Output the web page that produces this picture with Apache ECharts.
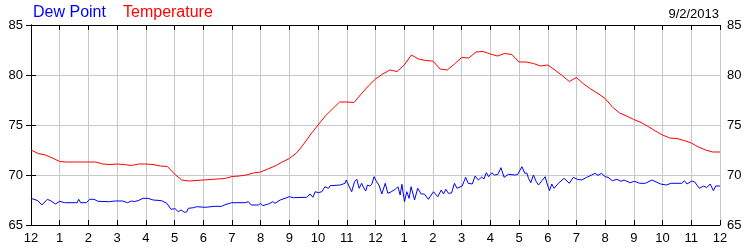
<!DOCTYPE html>
<html><head><meta charset="utf-8">
<script src="https://cdn.jsdelivr.net/npm/echarts@6/dist/echarts.min.js"></script>
<style>html,body{margin:0;padding:0;background:#fff}#c{width:750px;height:250px}</style>
</head><body><div id="c"></div>
<script>
// Temperature every 15 minutes from 12 AM to 12 AM (hours 0..24)
var tempStepHours = 0.25;
var tempValues = [
72.5,72.15,72.0,71.7,71.35,71.3,71.3,71.3,71.3,71.3,71.1,71.05,71.1,71.05,70.95,71.1,
71.1,71.05,70.9,70.85,70.1,69.5,69.4,69.45,69.5,69.55,69.6,69.65,69.85,69.9,70.0,70.2,
70.3,70.6,70.9,71.3,71.65,72.2,73.1,74.1,75.0,75.9,76.6,77.3,77.3,77.25,78.1,78.9,
79.6,80.1,80.5,80.35,81.0,82.0,81.6,81.45,81.4,80.6,80.5,81.1,81.75,81.7,82.3,82.35,
82.1,81.9,82.15,82.05,81.3,81.3,81.15,80.9,81.0,80.5,79.95,79.35,79.75,79.1,78.6,78.15,
77.65,76.8,76.2,75.9,75.55,75.25,74.85,74.4,74.0,73.7,73.65,73.45,73.2,72.8,72.5,72.3,72.3
];
// Dew point observations (hour of day, value)
var dewHours = [
0.00,0.24,0.38,0.57,0.70,0.85,1.00,1.17,1.61,1.66,1.73,1.93,2.04,2.20,2.33,2.74,2.91,3.20,3.36,3.50,3.60,3.73,3.90,4.07,
4.26,4.55,4.73,4.88,5.02,5.13,5.23,5.34,5.42,5.48,5.66,5.77,6.06,6.41,6.64,6.76,6.99,7.46,7.57,7.67,7.92,8.00,
8.07,8.27,8.42,8.50,8.68,8.85,9.00,9.14,9.60,9.72,9.82,9.90,10.01,10.13,10.24,10.36,10.42,10.77,10.94,10.98,
11.06,11.17,11.27,11.35,11.43,11.52,11.57,11.66,11.72,11.80,11.87,11.95,12.04,12.12,12.22,12.34,12.43,12.55,
12.69,12.78,12.86,12.92,13.01,13.09,13.17,13.24,13.36,13.47,13.59,13.70,13.84,14.02,14.17,14.29,14.37,14.45,
14.54,14.65,14.75,14.84,15.02,15.14,15.23,15.37,15.47,15.58,15.70,15.78,15.86,15.94,16.00,16.05,16.14,16.26,
16.37,16.48,16.63,16.85,16.95,17.10,17.20,17.27,17.33,17.41,17.50,17.60,17.68,17.80,17.91,17.97,18.06,18.14,
18.22,18.37,18.57,18.75,18.89,19.03,19.18,19.36,19.53,19.64,19.75,19.87,20.00,20.10,20.14,20.25,20.41,20.55,
20.66,20.87,21.02,21.20,21.40,21.63,21.93,22.13,22.30,22.67,22.76,22.85,23.02,23.12,23.28,23.43,23.54,23.66,
23.77,23.85,24.00
];
var dewValues = [
67.67,67.43,67.0,67.57,67.4,67.1,67.37,67.23,67.23,67.57,67.23,67.23,67.57,67.57,67.37,67.33,67.4,67.4,67.23,67.4,67.35,67.43,67.67,67.67,
67.5,67.43,67.17,66.57,66.63,66.33,66.5,66.27,66.3,66.67,66.73,66.83,66.77,66.87,66.87,67.03,67.23,67.23,67.33,67.0,67.0,67.17,
66.93,67.1,67.33,67.17,67.5,67.67,67.83,67.73,67.77,68.1,67.77,68.33,68.23,68.33,68.83,68.67,68.93,69.0,69.17,69.5,
69.0,68.33,69.33,69.57,68.67,69.17,68.83,68.4,69.0,68.9,69.07,69.83,69.33,69.0,68.1,69.17,68.17,68.33,
68.57,68.83,68.0,69.07,67.33,68.33,67.67,68.83,67.5,68.67,68.1,68.1,67.57,68.33,67.83,68.5,68.1,68.57,
68.17,68.2,69.17,68.67,68.9,69.77,69.17,69.1,69.9,69.5,69.8,69.6,70.23,69.83,69.8,70.23,70.0,70.05,
70.73,69.77,70.07,70.0,70.05,70.83,70.17,70.2,69.67,69.23,70.0,69.33,69.0,69.43,69.83,69.2,68.43,69.1,
68.67,69.17,69.67,69.17,69.77,69.57,69.5,69.77,70.0,70.17,69.97,70.17,69.83,69.77,69.8,69.43,69.57,69.37,
69.5,69.23,69.37,69.17,69.17,69.5,69.1,69.0,69.17,69.17,69.43,69.1,69.4,69.3,68.67,68.9,68.75,69.1,
68.43,68.9,68.9
];
var hourLabels = ['12','1','2','3','4','5','6','7','8','9','10','11','12','1','2','3','4','5','6','7','8','9','10','11','12'];
var yTicks = [65,70,75,80,85];
var dateText = '9/2/2013';

var tempData = tempValues.map(function(v,i){return [i*tempStepHours, v];});
var dewData = dewHours.map(function(h,i){return [h, dewValues[i]];});

var FONT = '"Liberation Sans", Arial, sans-serif';
var chart = echarts.init(document.getElementById('c'), null, {renderer:'canvas'});
var xCommon = {
  type:'value', min:0, max:24, interval:1,
  axisLine:{show:true, lineStyle:{color:'#000', width:1}},
  axisTick:{show:true, inside:true, length:5, lineStyle:{color:'#000'}}
};
var yCommon = {
  type:'value', min:yTicks[0], max:yTicks[yTicks.length-1], interval:5,
  axisLine:{show:true, lineStyle:{color:'#000', width:1}},
  axisTick:{show:true, inside:true, length:5, lineStyle:{color:'#000'}}
};
chart.setOption({
  animation:false,
  backgroundColor:'#fff',
  textStyle:{fontFamily:FONT},
  title:[
    {text:'Dew Point', left:33, top:5, padding:0, textStyle:{color:'#0000ff', fontSize:16, fontWeight:'normal', fontFamily:FONT}},
    {text:'Temperature', left:123, top:5, padding:0, textStyle:{color:'#ff0000', fontSize:16, fontWeight:'normal', fontFamily:FONT}},
    {text:dateText, right:31, top:8, padding:0, textStyle:{color:'#000', fontSize:13, fontWeight:'normal', fontFamily:FONT}}
  ],
  grid:{left:31, right:30, top:25, bottom:25, containLabel:false},
  xAxis:[
    Object.assign({}, xCommon, {position:'bottom',
      splitLine:{show:true, lineStyle:{color:'#c8c8c8', width:1}},
      axisLabel:{show:true, color:'#000', fontSize:13, fontFamily:FONT, margin:7,
        formatter:function(v){return hourLabels[Math.round(v)];}}}),
    Object.assign({}, xCommon, {position:'top', splitLine:{show:false}, axisLabel:{show:false}})
  ],
  yAxis:[
    Object.assign({}, yCommon, {position:'left',
      splitLine:{show:true, lineStyle:{color:'#c8c8c8', width:1}},
      axisLabel:{show:true, color:'#000', fontSize:13, fontFamily:FONT, margin:8}}),
    Object.assign({}, yCommon, {position:'right', splitLine:{show:false},
      axisLabel:{show:true, color:'#000', fontSize:13, fontFamily:FONT, margin:7}})
  ],
  series:[
    {type:'line', name:'Temperature', data:tempData, showSymbol:false, symbol:'none',
      lineStyle:{color:'#ff0000', width:1}, xAxisIndex:0, yAxisIndex:0, z:3},
    {type:'line', name:'Dew Point', data:dewData, showSymbol:false, symbol:'none',
      lineStyle:{color:'#0000ff', width:1}, xAxisIndex:0, yAxisIndex:0, z:3}
  ]
});
</script>
</body></html>
